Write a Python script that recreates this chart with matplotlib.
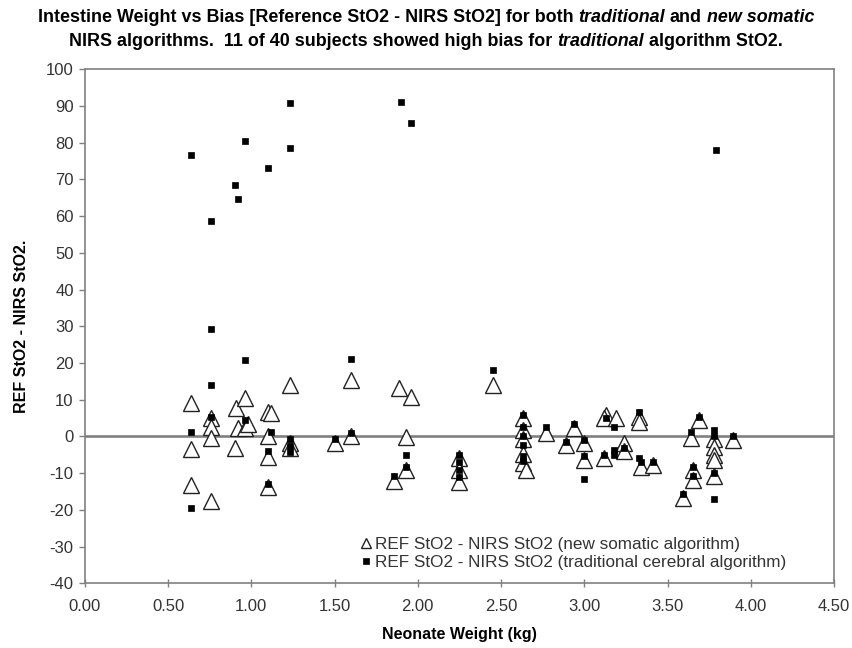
import matplotlib
matplotlib.use("Agg")
import matplotlib.pyplot as plt
from matplotlib.transforms import IdentityTransform

plt.rcParams['font.family'] = ['Liberation Sans', 'DejaVu Sans']
plt.rcParams['axes.unicode_minus'] = False

# new somatic algorithm (open triangles)
new_w = [0.64, 0.64, 0.64, 0.76, 0.76, 0.76, 0.76, 0.90, 0.91, 0.96, 0.92, 0.96,
         0.98, 1.10, 1.12, 1.10, 1.10, 1.10, 1.23, 1.23, 1.23, 1.50, 1.60, 1.60,
         1.89, 1.96, 1.93, 1.93, 1.86, 2.25, 2.25, 2.25, 2.45, 2.63, 2.63, 2.63,
         2.63, 2.63, 2.65, 2.77, 2.94, 2.89, 3.00, 3.00, 3.13, 3.12, 3.19, 3.33,
         3.33, 3.12, 3.24, 3.24, 3.34, 3.41, 3.69, 3.64, 3.65, 3.65, 3.59, 3.78,
         3.78, 3.78, 3.78, 3.78, 3.89]
new_bias = [9.0, -3.5, -13.2, -17.5, 5.0, 2.7, -0.5, -3.2, 7.7, 10.4, 2.2, 2.2,
            3.5, 6.8, 6.3, 0.1, -5.5, -13.7, 14.0, -1.9, -3.1, -1.9, 15.4, 0.0,
            13.1, 10.8, -0.2, -9.1, -12.0, -5.9, -9.1, -12.3, 14.0, 4.9, 1.8, -0.8,
            -4.9, -7.2, -9.1, 0.9, 2.2, -2.3, -1.9, -6.4, 5.9, 5.0, 5.0, 5.4,
            4.0, -5.9, -1.9, -4.0, -8.2, -7.8, 4.5, -0.5, -9.1, -11.8, -16.8, -0.8,
            -2.8, -5.0, -6.4, -10.9, -1.0]

# traditional cerebral algorithm (small filled squares)
trad_w = [0.64, 0.76, 0.76, 0.90, 0.92, 0.96, 0.96, 1.10, 1.23, 1.23, 1.90, 1.96,
          3.79, 1.60, 2.45, 0.76,
          0.64, 0.64, 0.76, 0.96, 1.12, 1.10, 1.10, 1.23, 1.23, 1.23, 1.50, 1.60,
          1.93, 1.93, 1.86, 2.25, 2.25, 2.25, 2.25, 2.63, 2.63, 2.63, 2.63, 2.63,
          2.63, 2.77, 2.94, 2.89, 3.00, 3.00, 3.00, 3.13, 3.18, 3.12, 3.18, 3.18,
          3.24, 3.33, 3.34, 3.33, 3.41, 3.69, 3.64, 3.65, 3.65, 3.59, 3.78, 3.78,
          3.78, 3.78, 3.89]
trad_bias = [76.6, 58.6, 29.2, 68.5, 64.6, 80.5, 20.8, 73.1, 90.8, 78.5, 91.0, 85.3,
             78.0, 21.0, 18.1, 14.0,
             1.3, -19.4, 5.4, 4.5, 1.3, -3.9, -12.9, -0.7, -4.1, -2.5, -0.7, 0.9,
             -5.0, -8.2, -10.8, -5.0, -7.0, -9.0, -11.0, 5.9, 2.7, 0.0, -2.3, -5.4,
             -6.8, 2.7, 3.3, -1.4, -0.9, -5.4, -11.6, 5.0, 2.7, -5.0, -3.7, -5.0,
             -3.2, 6.8, -6.9, -5.9, -6.9, 5.2, 1.3, -8.2, -10.9, -15.7, 1.8, 0.0,
             -10.0, -17.0, 0.0]

x_ticks = [0.0, 0.5, 1.0, 1.5, 2.0, 2.5, 3.0, 3.5, 4.0, 4.5]
y_ticks = list(range(-40, 101, 10))

fig = plt.figure(figsize=(8.52, 6.48), dpi=100)
ax = fig.add_axes([0.0995, 0.0998, 0.8795, 0.7932])

ax.axhline(0, color='#808080', lw=1.9, zorder=1)
ax.plot(new_w, new_bias, linestyle='none', marker='^', ms=11, mfc='white',
        mec='#222222', mew=1.0, zorder=2,
        label='REF StO2 - NIRS StO2 (new somatic algorithm)')
ax.plot(trad_w, trad_bias, linestyle='none', marker='s', ms=4.5, mfc='black',
        mec='black', mew=0.5, zorder=3,
        label='REF StO2 - NIRS StO2 (traditional cerebral algorithm)')

ax.set_xlim(0, 4.5)
ax.set_ylim(-40, 100)
ax.set_xticks(x_ticks)
ax.set_xticklabels(['%.2f' % v for v in x_ticks])
ax.set_yticks(y_ticks)
for s in ax.spines.values():
    s.set_color('#808080')
    s.set_linewidth(1.2)
ax.tick_params(axis='both', colors='#808080', labelcolor='#333333',
               labelsize=12, length=4, width=1)
ax.tick_params(axis='x', direction='inout', length=6, pad=8)
ax.tick_params(axis='y', direction='out', pad=4)

ax.set_xlabel('Neonate Weight (kg)', fontsize=11.5, fontweight='bold', labelpad=10)
ax.set_ylabel('REF StO2 - NIRS StO2.', fontsize=11.5, fontweight='bold', labelpad=12)

leg = ax.legend(loc='lower right', frameon=False, fontsize=12.3, handlelength=0.5,
                handletextpad=0.25, labelspacing=0.2, borderaxespad=0.0,
                bbox_to_anchor=(0.945, 0.012))
leg.legend_handles[0].set_markersize(7.5)
leg.legend_handles[1].set_markersize(4)
for t in leg.get_texts():
    t.set_color('#333333')


# two-line title with italic words
def draw_line(parts, y_px, size=12.9):
    r = fig.canvas.get_renderer()
    H = fig.bbox.height
    sp = fig.text(0, 0, 'x x', fontsize=size, fontweight='bold')
    ns = fig.text(0, 0, 'xx', fontsize=size, fontweight='bold')
    space = sp.get_window_extent(r).width - ns.get_window_extent(r).width
    sp.remove()
    ns.remove()
    widths = []
    for txt, style in parts:
        t = fig.text(0, 0, txt, fontsize=size, fontweight='bold', style=style)
        widths.append(t.get_window_extent(r).width)
        t.remove()
    total = sum(widths) + space * (len(parts) - 1)
    x = fig.bbox.width / 2 - total / 2
    for (txt, style), w in zip(parts, widths):
        fig.text(x, H - y_px, txt, fontsize=size, fontweight='bold', style=style,
                 transform=IdentityTransform(), va='center', ha='left')
        x += w + space


draw_line([('Intestine Weight vs Bias [Reference StO2 - NIRS StO2] for both', 'normal'),
           ('traditional', 'italic'), ('and', 'normal'), ('new somatic', 'italic')], 18)
draw_line([('NIRS algorithms.  11 of 40 subjects showed high bias for', 'normal'),
           ('traditional', 'italic'), ('algorithm StO2.', 'normal')], 41)

fig.savefig('out.png', dpi=100)
